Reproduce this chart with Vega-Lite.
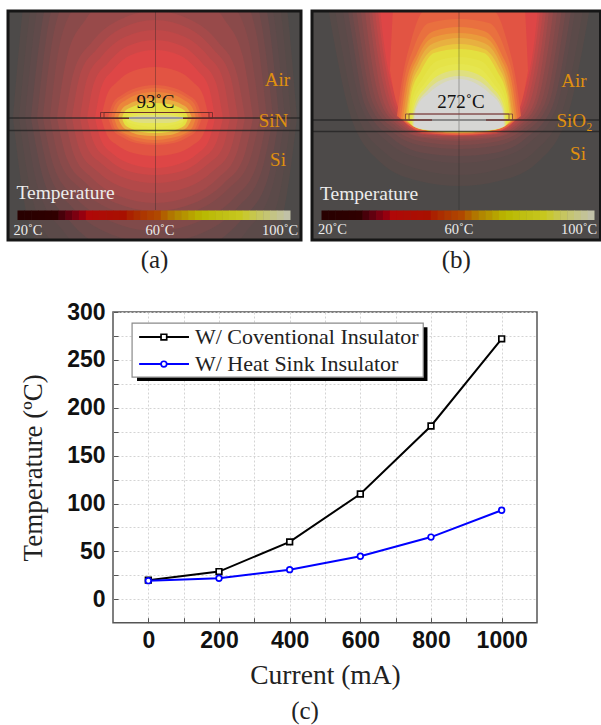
{
"$schema":"https://vega.github.io/schema/vega-lite/v6.json",
"padding":{"left":6,"top":9,"right":0,"bottom":0},
"autosize":{"type":"pad"},
"background":"white",
"datasets":{
"heatA":[
{"T":25,"x":5,"y":107,"y2":107},{"T":25,"x":19,"y":-34,"y2":204},{"T":25,"x":48,"y":-120,"y2":263},{"T":25,"x":90,"y":-187,"y2":309},{"T":25,"x":147,"y":-213,"y2":327},{"T":25,"x":204,"y":-187,"y2":309},{"T":25,"x":246,"y":-120,"y2":263},{"T":25,"x":275,"y":-34,"y2":204},{"T":25,"x":289,"y":107,"y2":107},
{"T":27.5,"x":11,"y":107,"y2":107},{"T":27.5,"x":25,"y":-20,"y2":190},{"T":27.5,"x":52,"y":-99,"y2":242},{"T":27.5,"x":92,"y":-160,"y2":282},{"T":27.5,"x":147,"y":-183,"y2":297},{"T":27.5,"x":202,"y":-160,"y2":282},{"T":27.5,"x":242,"y":-99,"y2":242},{"T":27.5,"x":270,"y":-20,"y2":190},{"T":27.5,"x":283,"y":107,"y2":107},
{"T":30,"x":17,"y":107,"y2":107},{"T":30,"x":30,"y":-7,"y2":177},{"T":30,"x":56,"y":-78,"y2":221},{"T":30,"x":95,"y":-132,"y2":254},{"T":30,"x":147,"y":-153,"y2":267},{"T":30,"x":199,"y":-132,"y2":254},{"T":30,"x":238,"y":-78,"y2":221},{"T":30,"x":264,"y":-7,"y2":177},{"T":30,"x":277,"y":107,"y2":107},
{"T":32.5,"x":23,"y":107,"y2":107},{"T":32.5,"x":36,"y":1,"y2":170},{"T":32.5,"x":60,"y":-63,"y2":208},{"T":32.5,"x":98,"y":-113,"y2":238},{"T":32.5,"x":147,"y":-133,"y2":250},{"T":32.5,"x":196,"y":-113,"y2":238},{"T":32.5,"x":234,"y":-63,"y2":208},{"T":32.5,"x":259,"y":1,"y2":170},{"T":32.5,"x":271,"y":107,"y2":107},
{"T":35,"x":29,"y":107,"y2":107},{"T":35,"x":41,"y":10,"y2":162},{"T":35,"x":64,"y":-49,"y2":196},{"T":35,"x":100,"y":-95,"y2":222},{"T":35,"x":147,"y":-113,"y2":232},{"T":35,"x":194,"y":-95,"y2":222},{"T":35,"x":230,"y":-49,"y2":196},{"T":35,"x":253,"y":10,"y2":162},{"T":35,"x":265,"y":107,"y2":107},
{"T":37.5,"x":35,"y":107,"y2":107},{"T":37.5,"x":46,"y":21,"y2":156},{"T":37.5,"x":68,"y":-31,"y2":187},{"T":37.5,"x":102,"y":-72,"y2":210},{"T":37.5,"x":147,"y":-88,"y2":220},{"T":37.5,"x":192,"y":-72,"y2":210},{"T":37.5,"x":226,"y":-31,"y2":187},{"T":37.5,"x":248,"y":21,"y2":156},{"T":37.5,"x":259,"y":107,"y2":107},
{"T":40,"x":42,"y":107,"y2":107},{"T":40,"x":52,"y":32,"y2":151},{"T":40,"x":73,"y":-14,"y2":178},{"T":40,"x":105,"y":-49,"y2":199},{"T":40,"x":147,"y":-63,"y2":207},{"T":40,"x":189,"y":-49,"y2":199},{"T":40,"x":220,"y":-14,"y2":178},{"T":40,"x":241,"y":32,"y2":151},{"T":40,"x":252,"y":107,"y2":107},
{"T":42.5,"x":49,"y":107,"y2":107},{"T":42.5,"x":59,"y":46,"y2":148},{"T":42.5,"x":78,"y":8,"y2":172},{"T":42.5,"x":108,"y":-20,"y2":192},{"T":42.5,"x":147,"y":-31,"y2":200},{"T":42.5,"x":186,"y":-20,"y2":192},{"T":42.5,"x":216,"y":8,"y2":172},{"T":42.5,"x":235,"y":46,"y2":148},{"T":42.5,"x":245,"y":107,"y2":107},
{"T":45,"x":57,"y":107,"y2":107},{"T":45,"x":66,"y":60,"y2":144},{"T":45,"x":84,"y":31,"y2":167},{"T":45,"x":111,"y":9,"y2":185},{"T":45,"x":147,"y":0,"y2":192},{"T":45,"x":183,"y":9,"y2":185},{"T":45,"x":210,"y":31,"y2":167},{"T":45,"x":228,"y":60,"y2":144},{"T":45,"x":237,"y":107,"y2":107},
{"T":47.5,"x":64,"y":107,"y2":107},{"T":47.5,"x":72,"y":64,"y2":140},{"T":47.5,"x":89,"y":38,"y2":160},{"T":47.5,"x":114,"y":17,"y2":176},{"T":47.5,"x":147,"y":9,"y2":182},{"T":47.5,"x":180,"y":17,"y2":176},{"T":47.5,"x":205,"y":38,"y2":160},{"T":47.5,"x":222,"y":64,"y2":140},{"T":47.5,"x":230,"y":107,"y2":107},
{"T":50,"x":72,"y":107,"y2":107},{"T":50,"x":79,"y":68,"y2":136},{"T":50,"x":94,"y":45,"y2":153},{"T":50,"x":117,"y":26,"y2":167},{"T":50,"x":147,"y":19,"y2":172},{"T":50,"x":177,"y":26,"y2":167},{"T":50,"x":200,"y":45,"y2":153},{"T":50,"x":215,"y":68,"y2":136},{"T":50,"x":222,"y":107,"y2":107},
{"T":52.5,"x":79,"y":107,"y2":107},{"T":52.5,"x":86,"y":72,"y2":132},{"T":52.5,"x":100,"y":52,"y2":148},{"T":52.5,"x":120,"y":35,"y2":160},{"T":52.5,"x":147,"y":29,"y2":164},{"T":52.5,"x":174,"y":35,"y2":160},{"T":52.5,"x":194,"y":52,"y2":148},{"T":52.5,"x":208,"y":72,"y2":132},{"T":52.5,"x":215,"y":107,"y2":107},
{"T":55,"x":87,"y":107,"y2":107},{"T":55,"x":93,"y":77,"y2":129},{"T":55,"x":105,"y":59,"y2":143},{"T":55,"x":123,"y":44,"y2":153},{"T":55,"x":147,"y":39,"y2":157},{"T":55,"x":171,"y":44,"y2":153},{"T":55,"x":189,"y":59,"y2":143},{"T":55,"x":201,"y":77,"y2":129},{"T":55,"x":207,"y":107,"y2":107},
{"T":57.5,"x":93,"y":107,"y2":107},{"T":57.5,"x":99,"y":84,"y2":124},{"T":57.5,"x":109,"y":71,"y2":134},{"T":57.5,"x":125,"y":60,"y2":142},{"T":57.5,"x":147,"y":56,"y2":145},{"T":57.5,"x":169,"y":60,"y2":142},{"T":57.5,"x":185,"y":71,"y2":134},{"T":57.5,"x":195,"y":84,"y2":124},{"T":57.5,"x":201,"y":107,"y2":107},
{"T":60,"x":100,"y":107,"y2":107},{"T":60,"x":105,"y":92,"y2":119},{"T":60,"x":114,"y":84,"y2":126},{"T":60,"x":128,"y":77,"y2":132},{"T":60,"x":147,"y":74,"y2":134},{"T":60,"x":166,"y":77,"y2":132},{"T":60,"x":180,"y":84,"y2":126},{"T":60,"x":189,"y":92,"y2":119},{"T":60,"x":194,"y":107,"y2":107},
{"T":62.5,"x":103,"y":107,"y2":107},{"T":62.5,"x":107,"y":94,"y2":118},{"T":62.5,"x":116,"y":86,"y2":124},{"T":62.5,"x":129,"y":80,"y2":130},{"T":62.5,"x":147,"y":77,"y2":132},{"T":62.5,"x":165,"y":80,"y2":130},{"T":62.5,"x":178,"y":86,"y2":124},{"T":62.5,"x":187,"y":94,"y2":118},{"T":62.5,"x":191,"y":107,"y2":107},
{"T":65,"x":106,"y":107,"y2":107},{"T":65,"x":110,"y":96,"y2":117},{"T":65,"x":118,"y":89,"y2":123},{"T":65,"x":131,"y":83,"y2":127},{"T":65,"x":147,"y":81,"y2":129},{"T":65,"x":163,"y":83,"y2":127},{"T":65,"x":176,"y":89,"y2":123},{"T":65,"x":184,"y":96,"y2":117},{"T":65,"x":188,"y":107,"y2":107},
{"T":70,"x":110,"y":107,"y2":107},{"T":70,"x":114,"y":98,"y2":115},{"T":70,"x":121,"y":93,"y2":120},{"T":70,"x":132,"y":89,"y2":124},{"T":70,"x":147,"y":87,"y2":125},{"T":70,"x":162,"y":89,"y2":124},{"T":70,"x":173,"y":93,"y2":120},{"T":70,"x":180,"y":98,"y2":115},{"T":70,"x":184,"y":107,"y2":107},
{"T":75,"x":114,"y":107,"y2":107},{"T":75,"x":117,"y":100,"y2":114},{"T":75,"x":124,"y":96,"y2":118},{"T":75,"x":134,"y":93,"y2":121},{"T":75,"x":147,"y":92,"y2":122},{"T":75,"x":160,"y":93,"y2":121},{"T":75,"x":170,"y":96,"y2":118},{"T":75,"x":177,"y":100,"y2":114},{"T":75,"x":180,"y":107,"y2":107},
{"T":80,"x":116,"y":107,"y2":107},{"T":80,"x":119,"y":104,"y2":112},{"T":80,"x":125,"y":102,"y2":116},{"T":80,"x":135,"y":100,"y2":118},{"T":80,"x":147,"y":99,"y2":119},{"T":80,"x":159,"y":100,"y2":118},{"T":80,"x":169,"y":102,"y2":116},{"T":80,"x":175,"y":104,"y2":112},{"T":80,"x":178,"y":107,"y2":107},
{"T":85,"x":117,"y":107,"y2":107},{"T":85,"x":120,"y":105,"y2":111},{"T":85,"x":126,"y":103,"y2":113},{"T":85,"x":135,"y":102,"y2":115},{"T":85,"x":147,"y":102,"y2":116},{"T":85,"x":159,"y":102,"y2":115},{"T":85,"x":168,"y":103,"y2":113},{"T":85,"x":174,"y":105,"y2":111},{"T":85,"x":177,"y":107,"y2":107},
{"T":90,"x":119,"y":107,"y2":107},{"T":90,"x":122,"y":106,"y2":109},{"T":90,"x":127,"y":105,"y2":111},{"T":90,"x":136,"y":104,"y2":112},{"T":90,"x":147,"y":104,"y2":112},{"T":90,"x":158,"y":104,"y2":112},{"T":90,"x":167,"y":105,"y2":111},{"T":90,"x":172,"y":106,"y2":109},{"T":90,"x":175,"y":107,"y2":107}
],
"heatB":[
{"T":25,"x":7,"y":-60,"y2":-60},{"T":25,"x":22,"y":-60,"y2":30},{"T":25,"x":37,"y":-60,"y2":100},{"T":25,"x":67,"y":-60,"y2":150},{"T":25,"x":107,"y":-60,"y2":170},{"T":25,"x":147,"y":-60,"y2":175},{"T":25,"x":187,"y":-60,"y2":170},{"T":25,"x":227,"y":-60,"y2":150},{"T":25,"x":257,"y":-60,"y2":100},{"T":25,"x":272,"y":-60,"y2":30},{"T":25,"x":287,"y":-60,"y2":-60},
{"T":27.5,"x":14,"y":-60,"y2":-60},{"T":27.5,"x":28,"y":-60,"y2":28},{"T":27.5,"x":43,"y":-60,"y2":98},{"T":27.5,"x":72,"y":-60,"y2":141},{"T":27.5,"x":110,"y":-60,"y2":159},{"T":27.5,"x":147,"y":-60,"y2":164},{"T":27.5,"x":184,"y":-60,"y2":159},{"T":27.5,"x":222,"y":-60,"y2":141},{"T":27.5,"x":251,"y":-60,"y2":98},{"T":27.5,"x":266,"y":-60,"y2":28},{"T":27.5,"x":280,"y":-60,"y2":-60},
{"T":30,"x":22,"y":-60,"y2":-60},{"T":30,"x":35,"y":-60,"y2":25},{"T":30,"x":49,"y":-60,"y2":95},{"T":30,"x":77,"y":-60,"y2":132},{"T":30,"x":112,"y":-60,"y2":148},{"T":30,"x":147,"y":-60,"y2":152},{"T":30,"x":182,"y":-60,"y2":148},{"T":30,"x":217,"y":-60,"y2":132},{"T":30,"x":245,"y":-60,"y2":95},{"T":30,"x":259,"y":-60,"y2":25},{"T":30,"x":272,"y":-60,"y2":-60},
{"T":32.5,"x":27,"y":-60,"y2":-60},{"T":32.5,"x":40,"y":-60,"y2":25},{"T":32.5,"x":53,"y":-60,"y2":94},{"T":32.5,"x":80,"y":-60,"y2":127},{"T":32.5,"x":112,"y":-60,"y2":142},{"T":32.5,"x":147,"y":-60,"y2":145},{"T":32.5,"x":182,"y":-60,"y2":142},{"T":32.5,"x":214,"y":-60,"y2":127},{"T":32.5,"x":241,"y":-60,"y2":94},{"T":32.5,"x":255,"y":-60,"y2":25},{"T":32.5,"x":267,"y":-60,"y2":-60},
{"T":35,"x":32,"y":-60,"y2":-60},{"T":35,"x":44,"y":-60,"y2":25},{"T":35,"x":57,"y":-60,"y2":92},{"T":35,"x":82,"y":-60,"y2":122},{"T":35,"x":112,"y":-60,"y2":135},{"T":35,"x":147,"y":-60,"y2":138},{"T":35,"x":182,"y":-60,"y2":135},{"T":35,"x":212,"y":-60,"y2":122},{"T":35,"x":237,"y":-60,"y2":92},{"T":35,"x":250,"y":-60,"y2":25},{"T":35,"x":262,"y":-60,"y2":-60},
{"T":37.5,"x":37,"y":-60,"y2":-60},{"T":37.5,"x":48,"y":-60,"y2":25},{"T":37.5,"x":61,"y":-60,"y2":92},{"T":37.5,"x":84,"y":-60,"y2":119},{"T":37.5,"x":112,"y":-60,"y2":131},{"T":37.5,"x":147,"y":-60,"y2":134},{"T":37.5,"x":182,"y":-60,"y2":131},{"T":37.5,"x":210,"y":-60,"y2":119},{"T":37.5,"x":233,"y":-60,"y2":92},{"T":37.5,"x":246,"y":-60,"y2":25},{"T":37.5,"x":257,"y":-60,"y2":-60},
{"T":40,"x":42,"y":-60,"y2":-60},{"T":40,"x":52,"y":-60,"y2":25},{"T":40,"x":65,"y":-60,"y2":92},{"T":40,"x":85,"y":-60,"y2":116},{"T":40,"x":112,"y":-60,"y2":127},{"T":40,"x":147,"y":-60,"y2":130},{"T":40,"x":182,"y":-60,"y2":127},{"T":40,"x":209,"y":-60,"y2":116},{"T":40,"x":229,"y":-60,"y2":92},{"T":40,"x":242,"y":-60,"y2":25},{"T":40,"x":252,"y":-60,"y2":-60},
{"T":42.5,"x":47,"y":-60,"y2":-60},{"T":42.5,"x":56,"y":-60,"y2":25},{"T":42.5,"x":69,"y":-60,"y2":92},{"T":42.5,"x":86,"y":-60,"y2":114},{"T":42.5,"x":112,"y":-60,"y2":126},{"T":42.5,"x":147,"y":-60,"y2":128},{"T":42.5,"x":182,"y":-60,"y2":126},{"T":42.5,"x":208,"y":-60,"y2":114},{"T":42.5,"x":225,"y":-60,"y2":92},{"T":42.5,"x":238,"y":-60,"y2":25},{"T":42.5,"x":248,"y":-60,"y2":-60},
{"T":45,"x":51,"y":-60,"y2":-60},{"T":45,"x":60,"y":-60,"y2":25},{"T":45,"x":72,"y":-60,"y2":92},{"T":45,"x":87,"y":-60,"y2":112},{"T":45,"x":112,"y":-60,"y2":124},{"T":45,"x":147,"y":-60,"y2":126},{"T":45,"x":182,"y":-60,"y2":124},{"T":45,"x":207,"y":-60,"y2":112},{"T":45,"x":222,"y":-60,"y2":92},{"T":45,"x":234,"y":-60,"y2":25},{"T":45,"x":243,"y":-60,"y2":-60},
{"T":47.5,"x":54,"y":-60,"y2":-60},{"T":47.5,"x":63,"y":-60,"y2":25},{"T":47.5,"x":75,"y":-60,"y2":88},{"T":47.5,"x":88,"y":-60,"y2":110},{"T":47.5,"x":112,"y":-60,"y2":123},{"T":47.5,"x":147,"y":-60,"y2":125},{"T":47.5,"x":182,"y":-60,"y2":123},{"T":47.5,"x":206,"y":-60,"y2":110},{"T":47.5,"x":219,"y":-60,"y2":88},{"T":47.5,"x":231,"y":-60,"y2":25},{"T":47.5,"x":240,"y":-60,"y2":-60},
{"T":50,"x":57,"y":-60,"y2":-60},{"T":50,"x":66,"y":-60,"y2":25},{"T":50,"x":77,"y":-60,"y2":85},{"T":50,"x":89,"y":-60,"y2":108},{"T":50,"x":112,"y":-60,"y2":123},{"T":50,"x":147,"y":-60,"y2":125},{"T":50,"x":182,"y":-60,"y2":123},{"T":50,"x":205,"y":-60,"y2":108},{"T":50,"x":217,"y":-60,"y2":85},{"T":50,"x":228,"y":-60,"y2":25},{"T":50,"x":237,"y":-60,"y2":-60},
{"T":52.5,"x":60,"y":-60,"y2":-60},{"T":52.5,"x":69,"y":-60,"y2":25},{"T":52.5,"x":80,"y":-60,"y2":85},{"T":52.5,"x":91,"y":-60,"y2":108},{"T":52.5,"x":112,"y":-60,"y2":122},{"T":52.5,"x":147,"y":-60,"y2":124},{"T":52.5,"x":182,"y":-60,"y2":122},{"T":52.5,"x":203,"y":-60,"y2":108},{"T":52.5,"x":214,"y":-60,"y2":85},{"T":52.5,"x":225,"y":-60,"y2":25},{"T":52.5,"x":234,"y":-60,"y2":-60},
{"T":55,"x":63,"y":-60,"y2":-60},{"T":55,"x":71,"y":-60,"y2":25},{"T":55,"x":83,"y":-60,"y2":85},{"T":55,"x":93,"y":-60,"y2":108},{"T":55,"x":112,"y":-60,"y2":122},{"T":55,"x":147,"y":-60,"y2":124},{"T":55,"x":182,"y":-60,"y2":122},{"T":55,"x":201,"y":-60,"y2":108},{"T":55,"x":211,"y":-60,"y2":85},{"T":55,"x":223,"y":-60,"y2":25},{"T":55,"x":231,"y":-60,"y2":-60},
{"T":57.5,"x":78,"y":60,"y2":60},{"T":57.5,"x":84,"y":-30,"y2":90},{"T":57.5,"x":95,"y":-30,"y2":110},{"T":57.5,"x":112,"y":-30,"y2":122},{"T":57.5,"x":147,"y":-30,"y2":123},{"T":57.5,"x":182,"y":-30,"y2":122},{"T":57.5,"x":199,"y":-30,"y2":110},{"T":57.5,"x":210,"y":-30,"y2":90},{"T":57.5,"x":216,"y":60,"y2":60},
{"T":60,"x":85,"y":105,"y2":105},{"T":60,"x":89,"y":75,"y2":108},{"T":60,"x":99,"y":30,"y2":116},{"T":60,"x":112,"y":0,"y2":121},{"T":60,"x":147,"y":-5,"y2":124},{"T":60,"x":182,"y":0,"y2":121},{"T":60,"x":195,"y":30,"y2":116},{"T":60,"x":205,"y":75,"y2":108},{"T":60,"x":209,"y":105,"y2":105},
{"T":62.5,"x":87,"y":106,"y2":106},{"T":62.5,"x":91,"y":76,"y2":109},{"T":62.5,"x":102,"y":36,"y2":116},{"T":62.5,"x":117,"y":12,"y2":121},{"T":62.5,"x":147,"y":8,"y2":123},{"T":62.5,"x":177,"y":12,"y2":121},{"T":62.5,"x":192,"y":36,"y2":116},{"T":62.5,"x":203,"y":76,"y2":109},{"T":62.5,"x":207,"y":106,"y2":106},
{"T":65,"x":89,"y":107,"y2":107},{"T":65,"x":93,"y":78,"y2":110},{"T":65,"x":105,"y":42,"y2":117},{"T":65,"x":122,"y":20,"y2":121},{"T":65,"x":147,"y":16,"y2":122},{"T":65,"x":172,"y":20,"y2":121},{"T":65,"x":189,"y":42,"y2":117},{"T":65,"x":201,"y":78,"y2":110},{"T":65,"x":205,"y":107,"y2":107},
{"T":67.5,"x":91,"y":107,"y2":107},{"T":67.5,"x":95,"y":79,"y2":111},{"T":67.5,"x":106,"y":46,"y2":117},{"T":67.5,"x":122,"y":26,"y2":120},{"T":67.5,"x":147,"y":22,"y2":122},{"T":67.5,"x":172,"y":26,"y2":120},{"T":67.5,"x":188,"y":46,"y2":117},{"T":67.5,"x":199,"y":79,"y2":111},{"T":67.5,"x":203,"y":107,"y2":107},
{"T":70,"x":93,"y":108,"y2":108},{"T":70,"x":97,"y":80,"y2":112},{"T":70,"x":107,"y":50,"y2":117},{"T":70,"x":122,"y":32,"y2":120},{"T":70,"x":147,"y":27,"y2":122},{"T":70,"x":172,"y":32,"y2":120},{"T":70,"x":187,"y":50,"y2":117},{"T":70,"x":197,"y":80,"y2":112},{"T":70,"x":201,"y":108,"y2":108},
{"T":72.5,"x":94,"y":109,"y2":109},{"T":72.5,"x":98,"y":82,"y2":112},{"T":72.5,"x":108,"y":55,"y2":117},{"T":72.5,"x":122,"y":38,"y2":120},{"T":72.5,"x":147,"y":33,"y2":121},{"T":72.5,"x":172,"y":38,"y2":120},{"T":72.5,"x":186,"y":55,"y2":117},{"T":72.5,"x":196,"y":82,"y2":112},{"T":72.5,"x":200,"y":109,"y2":109},
{"T":75,"x":96,"y":110,"y2":110},{"T":75,"x":99,"y":84,"y2":113},{"T":75,"x":109,"y":60,"y2":118},{"T":75,"x":122,"y":42,"y2":120},{"T":75,"x":147,"y":38,"y2":121},{"T":75,"x":172,"y":42,"y2":120},{"T":75,"x":185,"y":60,"y2":118},{"T":75,"x":195,"y":84,"y2":113},{"T":75,"x":198,"y":110,"y2":110},
{"T":80,"x":98,"y":112,"y2":112},{"T":80,"x":100,"y":90,"y2":114},{"T":80,"x":111,"y":67,"y2":118},{"T":80,"x":125,"y":50,"y2":120},{"T":80,"x":147,"y":46,"y2":121},{"T":80,"x":169,"y":50,"y2":120},{"T":80,"x":183,"y":67,"y2":118},{"T":80,"x":194,"y":90,"y2":114},{"T":80,"x":196,"y":112,"y2":112},
{"T":85,"x":99,"y":113,"y2":113},{"T":85,"x":101,"y":93,"y2":115},{"T":85,"x":113,"y":72,"y2":119},{"T":85,"x":127,"y":57,"y2":120},{"T":85,"x":147,"y":53,"y2":121},{"T":85,"x":167,"y":57,"y2":120},{"T":85,"x":181,"y":72,"y2":119},{"T":85,"x":193,"y":93,"y2":115},{"T":85,"x":195,"y":113,"y2":113},
{"T":90,"x":100,"y":114,"y2":114},{"T":90,"x":102,"y":96,"y2":115},{"T":90,"x":114,"y":76,"y2":119},{"T":90,"x":129,"y":63,"y2":120},{"T":90,"x":147,"y":59,"y2":120},{"T":90,"x":165,"y":63,"y2":120},{"T":90,"x":180,"y":76,"y2":119},{"T":90,"x":192,"y":96,"y2":115},{"T":90,"x":194,"y":114,"y2":114},
{"T":95,"x":101,"y":115,"y2":115},{"T":95,"x":103,"y":98,"y2":116},{"T":95,"x":115,"y":80,"y2":119},{"T":95,"x":129,"y":69,"y2":120},{"T":95,"x":147,"y":65,"y2":120},{"T":95,"x":165,"y":69,"y2":120},{"T":95,"x":179,"y":80,"y2":119},{"T":95,"x":191,"y":98,"y2":116},{"T":95,"x":193,"y":115,"y2":115},
{"T":100,"x":102,"y":115,"y2":115},{"T":100,"x":104,"y":98,"y2":116},{"T":100,"x":117,"y":82,"y2":119},{"T":100,"x":131,"y":72,"y2":120},{"T":100,"x":147,"y":68,"y2":120},{"T":100,"x":163,"y":72,"y2":120},{"T":100,"x":177,"y":82,"y2":119},{"T":100,"x":190,"y":98,"y2":116},{"T":100,"x":192,"y":115,"y2":115}
],
"bar":[
{"T":20,"x":9.5,"x2":16.8,"y":199.5,"y2":209},{"T":22,"x":16.3,"x2":23.6,"y":199.5,"y2":209},{"T":24,"x":23.2,"x2":30.5,"y":199.5,"y2":209},{"T":26,"x":30,"x2":37.3,"y":199.5,"y2":209},{"T":28,"x":36.8,"x2":44.1,"y":199.5,"y2":209},{"T":30,"x":43.6,"x2":50.9,"y":199.5,"y2":209},{"T":32,"x":50.5,"x2":57.8,"y":199.5,"y2":209},{"T":34,"x":57.3,"x2":64.6,"y":199.5,"y2":209},{"T":36,"x":64.1,"x2":71.4,"y":199.5,"y2":209},{"T":38,"x":70.9,"x2":78.2,"y":199.5,"y2":209},
{"T":40,"x":77.8,"x2":85.1,"y":199.5,"y2":209},{"T":42,"x":84.6,"x2":91.9,"y":199.5,"y2":209},{"T":44,"x":91.4,"x2":98.7,"y":199.5,"y2":209},{"T":46,"x":98.2,"x2":105.5,"y":199.5,"y2":209},{"T":48,"x":105,"x2":112.3,"y":199.5,"y2":209},{"T":50,"x":111.9,"x2":119.2,"y":199.5,"y2":209},{"T":52,"x":118.7,"x2":126,"y":199.5,"y2":209},{"T":54,"x":125.5,"x2":132.8,"y":199.5,"y2":209},{"T":56,"x":132.3,"x2":139.6,"y":199.5,"y2":209},{"T":58,"x":139.2,"x2":146.5,"y":199.5,"y2":209},
{"T":60,"x":146,"x2":153.3,"y":199.5,"y2":209},{"T":62,"x":152.8,"x2":160.1,"y":199.5,"y2":209},{"T":64,"x":159.6,"x2":166.9,"y":199.5,"y2":209},{"T":66,"x":166.5,"x2":173.8,"y":199.5,"y2":209},{"T":68,"x":173.3,"x2":180.6,"y":199.5,"y2":209},{"T":70,"x":180.1,"x2":187.4,"y":199.5,"y2":209},{"T":72,"x":186.9,"x2":194.2,"y":199.5,"y2":209},{"T":74,"x":193.8,"x2":201.1,"y":199.5,"y2":209},{"T":76,"x":200.6,"x2":207.9,"y":199.5,"y2":209},{"T":78,"x":207.4,"x2":214.7,"y":199.5,"y2":209},
{"T":80,"x":214.2,"x2":221.5,"y":199.5,"y2":209},{"T":82,"x":221,"x2":228.3,"y":199.5,"y2":209},{"T":84,"x":227.9,"x2":235.2,"y":199.5,"y2":209},{"T":86,"x":234.7,"x2":242,"y":199.5,"y2":209},{"T":88,"x":241.5,"x2":248.8,"y":199.5,"y2":209},{"T":90,"x":248.3,"x2":255.6,"y":199.5,"y2":209},{"T":92,"x":255.2,"x2":262.5,"y":199.5,"y2":209},{"T":94,"x":262,"x2":269.3,"y":199.5,"y2":209},{"T":96,"x":268.8,"x2":276.1,"y":199.5,"y2":209},{"T":98,"x":275.6,"x2":282.5,"y":199.5,"y2":209}
],
"series":[
{"current":0,"temperature":20,"series":"W/ Coventional Insulator"},{"current":200,"temperature":29,"series":"W/ Coventional Insulator"},{"current":400,"temperature":60,"series":"W/ Coventional Insulator"},{"current":600,"temperature":110,"series":"W/ Coventional Insulator"},{"current":800,"temperature":181,"series":"W/ Coventional Insulator"},{"current":1000,"temperature":272,"series":"W/ Coventional Insulator"},
{"current":0,"temperature":19.5,"series":"W/ Heat Sink Insulator"},{"current":200,"temperature":22,"series":"W/ Heat Sink Insulator"},{"current":400,"temperature":31,"series":"W/ Heat Sink Insulator"},{"current":600,"temperature":45,"series":"W/ Heat Sink Insulator"},{"current":800,"temperature":65,"series":"W/ Heat Sink Insulator"},{"current":1000,"temperature":93,"series":"W/ Heat Sink Insulator"}
],
"legendLine":[
{"current":-26,"temperature":273.8,"series":"W/ Coventional Insulator"},{"current":115,"temperature":273.8,"series":"W/ Coventional Insulator"},
{"current":-26,"temperature":245.6,"series":"W/ Heat Sink Insulator"},{"current":115,"temperature":245.6,"series":"W/ Heat Sink Insulator"}
],
"legendMark":[
{"current":44,"temperature":273.8,"series":"W/ Coventional Insulator"},
{"current":44,"temperature":245.6,"series":"W/ Heat Sink Insulator"}
],
"legendText":[
{"current":132,"temperature":273.8,"series":"W/ Coventional Insulator"},
{"current":132,"temperature":245.6,"series":"W/ Heat Sink Insulator"}
]
},
"spacing":27,
"vconcat":[
{"spacing":7,"hconcat":[
{"width":293,"height":229,"view":{"fill":"#4d4a49","stroke":null},
"title":{"text":"(a)","orient":"bottom","font":"Liberation Serif","fontSize":25,"fontWeight":"normal","color":"#222222","offset":6},
"encoding":{"x":{"field":"x","type":"quantitative","scale":{"domain":[0,293],"nice":false,"zero":false},"axis":null},"y":{"field":"y","type":"quantitative","scale":{"domain":[0,229],"reverse":true,"nice":false,"zero":false},"axis":null}},
"resolve":{"scale":{"color":"independent"}},
"layer":[
{"data":{"name":"heatA"},"mark":{"type":"area","clip":true,"interpolate":"monotone"},"encoding":{"y2":{"field":"y2"},"detail":{"field":"T","type":"ordinal"},"color":{"field":"T","type":"quantitative","legend":null,"scale":{"domain":[20,30,40,50,55,62,70,75,85,92,96,100],"range":["#4d4a49","#604a4a","#8a4a4a","#c04848","#de4646","#e86c40","#e8b040","#e4e040","#e6e650","#dcdc90","#d8d8c0","#d6d6d4"]}}}},
{"data":{"name":"bar"},"mark":{"type":"rect"},"encoding":{"x2":{"field":"x2"},"y2":{"field":"y2"},"color":{"field":"T","type":"quantitative","legend":null,"scale":{"domain":[20,30,40,50,60,65,73,85,100],"range":["#000000","#300000","#b00808","#a81000","#b04800","#b08000","#b8b800","#c8c820","#c0c0b8"]}}}},
{"data":{"values":[{"x":0,"x2":293,"y":107,"y2":107},{"x":0,"x2":293,"y":119.5,"y2":119.5}]},"mark":{"type":"rule","color":"#222222","opacity":0.75,"strokeWidth":1.5},"encoding":{"x2":{"field":"x2"},"y2":{"field":"y2"}}},
{"data":{"values":[{"x":147.5,"x2":147.5,"y":0,"y2":199}]},"mark":{"type":"rule","color":"#222222","opacity":0.5,"strokeWidth":0.7},"encoding":{"x2":{"field":"x2"},"y2":{"field":"y2"}}},
{"data":{"values":[{"x":92.5,"x2":204.5,"y":101.5,"y2":107.5},{"x":96,"x2":201,"y":101.5,"y2":107.5}]},"mark":{"type":"rect","fill":null,"stroke":"#6a2a2a","strokeWidth":0.8},"encoding":{"x2":{"field":"x2"},"y2":{"field":"y2"}}},
{"data":{"values":[{"x":121,"x2":175,"y":107,"y2":107}]},"mark":{"type":"rule","color":"#9a9a9a","strokeWidth":2},"encoding":{"x2":{"field":"x2"},"y2":{"field":"y2"}}},
{"data":{"values":[{"x":147.5,"y":91,"label":"93˚C"}]},"mark":{"type":"text","font":"Liberation Serif","fontSize":19,"color":"#111111","align":"center","baseline":"middle"},"encoding":{"text":{"field":"label"}}},
{"data":{"values":[{"x":269.5,"y":69,"label":"Air"},{"x":265.5,"y":109.5,"label":"SiN"},{"x":270,"y":149,"label":"Si"}]},"mark":{"type":"text","font":"Liberation Serif","fontSize":19,"color":"#e0900f","align":"center","baseline":"middle"},"encoding":{"text":{"field":"label"}}},
{"data":{"values":[{"x":8.5,"y":182,"label":"Temperature"}]},"mark":{"type":"text","font":"Liberation Serif","fontSize":19.5,"color":"#ececec","align":"left","baseline":"middle"},"encoding":{"text":{"field":"label"}}},
{"data":{"values":[{"x":20,"y":219.5,"label":"20˚C"},{"x":152,"y":219.5,"label":"60˚C"},{"x":272,"y":219.5,"label":"100˚C"}]},"mark":{"type":"text","font":"Liberation Serif","fontSize":14.5,"color":"#ececec","align":"center","baseline":"middle"},"encoding":{"text":{"field":"label"}}},
{"data":{"values":[{"x":0,"x2":293,"y":0,"y2":229}]},"mark":{"type":"rect","fill":null,"stroke":"#161616","strokeWidth":3},"encoding":{"x2":{"field":"x2"},"y2":{"field":"y2"}}}
]},
{"width":288.5,"height":229,"view":{"fill":"#4d4a49","stroke":null},
"title":{"text":"(b)","orient":"bottom","font":"Liberation Serif","fontSize":25,"fontWeight":"normal","color":"#222222","offset":6},
"encoding":{"x":{"field":"x","type":"quantitative","scale":{"domain":[0,288.5],"nice":false,"zero":false},"axis":null},"y":{"field":"y","type":"quantitative","scale":{"domain":[0,229],"reverse":true,"nice":false,"zero":false},"axis":null}},
"resolve":{"scale":{"color":"independent"}},
"layer":[
{"data":{"name":"heatB"},"mark":{"type":"area","clip":true,"interpolate":"monotone"},"encoding":{"y2":{"field":"y2"},"detail":{"field":"T","type":"ordinal"},"color":{"field":"T","type":"quantitative","legend":null,"scale":{"domain":[20,30,40,50,55,62,70,75,85,92,96,100],"range":["#4d4a49","#604a4a","#8a4a4a","#c04848","#de4646","#e86c40","#e8b040","#e4e040","#e6e650","#dcdc90","#d8d8c0","#d6d6d4"]}}}},
{"data":{"name":"bar"},"mark":{"type":"rect"},"encoding":{"x2":{"field":"x2"},"y2":{"field":"y2"},"color":{"field":"T","type":"quantitative","legend":null,"scale":{"domain":[20,30,40,50,60,65,73,85,100],"range":["#000000","#300000","#b00808","#a81000","#b04800","#b08000","#b8b800","#c8c820","#c0c0b8"]}}}},
{"data":{"values":[{"x":0,"x2":288.5,"y":109,"y2":109},{"x":0,"x2":288.5,"y":120.5,"y2":120.5}]},"mark":{"type":"rule","color":"#222222","opacity":0.75,"strokeWidth":1.5},"encoding":{"x2":{"field":"x2"},"y2":{"field":"y2"}}},
{"data":{"values":[{"x":147,"x2":147,"y":0,"y2":199}]},"mark":{"type":"rule","color":"#222222","opacity":0.5,"strokeWidth":0.7},"encoding":{"x2":{"field":"x2"},"y2":{"field":"y2"}}},
{"data":{"values":[{"x":93.5,"x2":200.5,"y":103,"y2":109},{"x":97,"x2":197,"y":103,"y2":109}]},"mark":{"type":"rect","fill":null,"stroke":"#7a3a3a","strokeWidth":0.8},"encoding":{"x2":{"field":"x2"},"y2":{"field":"y2"}}},
{"data":{"values":[{"x":120,"x2":174,"y":109,"y2":109}]},"mark":{"type":"rule","color":"#8a8a8a","strokeWidth":2},"encoding":{"x2":{"field":"x2"},"y2":{"field":"y2"}}},
{"data":{"values":[{"x":149,"y":91,"label":"272˚C"}]},"mark":{"type":"text","font":"Liberation Serif","fontSize":19,"color":"#111111","align":"center","baseline":"middle"},"encoding":{"text":{"field":"label"}}},
{"data":{"values":[{"x":262,"y":70,"label":"Air"},{"x":262.5,"y":109.5,"label":"SiO₂"},{"x":266,"y":143,"label":"Si"}]},"mark":{"type":"text","font":"Liberation Serif","fontSize":19,"color":"#e0900f","align":"center","baseline":"middle"},"encoding":{"text":{"field":"label"}}},
{"data":{"values":[{"x":8,"y":183,"label":"Temperature"}]},"mark":{"type":"text","font":"Liberation Serif","fontSize":19.5,"color":"#ececec","align":"left","baseline":"middle"},"encoding":{"text":{"field":"label"}}},
{"data":{"values":[{"x":20.5,"y":219,"label":"20˚C"},{"x":147,"y":219,"label":"60˚C"},{"x":267,"y":219,"label":"100˚C"}]},"mark":{"type":"text","font":"Liberation Serif","fontSize":14.5,"color":"#ececec","align":"center","baseline":"middle"},"encoding":{"text":{"field":"label"}}},
{"data":{"values":[{"x":0,"x2":288.5,"y":0,"y2":229}]},"mark":{"type":"rect","fill":null,"stroke":"#161616","strokeWidth":3},"encoding":{"x2":{"field":"x2"},"y2":{"field":"y2"}}}
]}
]},
{"spacing":0,"hconcat":[
{"width":10,"height":1,"view":{"stroke":null},"data":{"values":[{"blank":""}]},"mark":{"type":"text"},"encoding":{"text":{"field":"blank"}}},
{"width":424,"height":310.7,"view":{"stroke":"#555555","strokeWidth":1.5},
"title":{"text":"(c)","orient":"bottom","font":"Liberation Serif","fontSize":25,"fontWeight":"normal","color":"#222222","offset":10,"dx":-20},
"encoding":{
"x":{"field":"current","type":"quantitative","scale":{"domain":[-100,1100],"nice":false,"zero":false},"axis":{"title":"Current (mA)","values":[0,100,200,300,400,500,600,700,800,900,1000],"format":"d","labelExpr":"datum.value%200==0?datum.label:''","labelOverlap":false,"labelBound":false,"labelFlush":false,"domain":false,"grid":true,"gridColor":"#d4d4d4","gridDash":[2,2],"gridWidth":1,"tickSize":-5,"tickColor":"#555555","labelFont":"Liberation Sans","labelFontWeight":"bold","labelFontSize":23,"labelColor":"#111111","labelPadding":12,"titleFont":"Liberation Serif","titleFontWeight":"normal","titleFontSize":27.5,"titleColor":"#222222","titlePadding":9}},
"y":{"field":"temperature","type":"quantitative","scale":{"domain":[-24.4,300],"nice":false,"zero":false},"axis":{"title":"Temperature (ºC)","values":[0,25,50,75,100,125,150,175,200,225,250,275,300],"labelExpr":"datum.value%50==0?datum.label:''","labelOverlap":false,"labelBound":false,"labelFlush":false,"domain":false,"grid":true,"gridColor":"#d4d4d4","gridDash":[2,2],"gridWidth":1,"tickSize":-5,"tickColor":"#555555","labelFont":"Liberation Sans","labelFontWeight":"bold","labelFontSize":23,"labelColor":"#111111","labelPadding":13,"titleFont":"Liberation Serif","titleFontWeight":"normal","titleFontSize":27,"titleColor":"#222222","titlePadding":19}}
},
"layer":[
{"data":{"name":"series"},"mark":{"type":"line","strokeWidth":2},"encoding":{"color":{"field":"series","type":"nominal","legend":null,"scale":{"domain":["W/ Coventional Insulator","W/ Heat Sink Insulator"],"range":["#000000","#0000ff"]}}}},
{"data":{"name":"series"},"mark":{"type":"point","filled":false,"fill":"white","fillOpacity":1,"strokeWidth":1.7,"size":32},"encoding":{"color":{"field":"series","type":"nominal","legend":null},"shape":{"field":"series","type":"nominal","legend":null,"scale":{"domain":["W/ Coventional Insulator","W/ Heat Sink Insulator"],"range":["square","circle"]}}}},
{"data":{"values":[{"current":-32,"current2":790,"temperature":284,"temperature2":228}]},"mark":{"type":"rect","color":"#000000"},"encoding":{"x2":{"field":"current2"},"y2":{"field":"temperature2"}}},
{"data":{"values":[{"current":-46,"current2":778,"temperature":288.4,"temperature2":232}]},"mark":{"type":"rect","fill":"white","stroke":"#8a8a8a","strokeWidth":1.2},"encoding":{"x2":{"field":"current2"},"y2":{"field":"temperature2"}}},
{"data":{"name":"legendLine"},"mark":{"type":"line","strokeWidth":2},"encoding":{"color":{"field":"series","type":"nominal","legend":null}}},
{"data":{"name":"legendMark"},"mark":{"type":"point","filled":false,"fill":"white","fillOpacity":1,"strokeWidth":1.7,"size":32},"encoding":{"color":{"field":"series","type":"nominal","legend":null},"shape":{"field":"series","type":"nominal","legend":null}}},
{"data":{"name":"legendText"},"mark":{"type":"text","font":"Liberation Serif","fontSize":22,"color":"#222222","align":"left","baseline":"middle"},"encoding":{"text":{"field":"series"}}}
]}
]}
]
}
